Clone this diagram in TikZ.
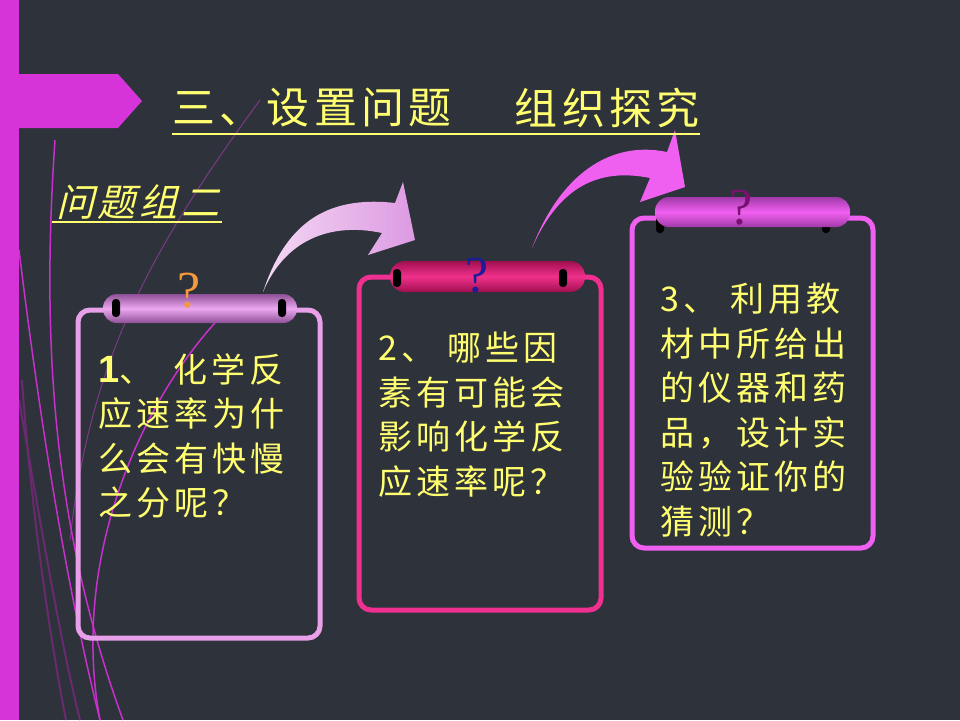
\documentclass[tikz,border=0pt]{standalone}
\usepackage{fontspec}
\newfontfamily\cjk[LetterSpace=12]{Noto Sans CJK SC}
\newfontfamily\cjkt[LetterSpace=10]{Noto Sans CJK SC}
\newfontfamily\cjki[FakeSlant=0.25,LetterSpace=10]{Noto Sans CJK SC}
\newfontfamily\numf{Liberation Sans}
\newfontfamily\qf{Liberation Serif}
\definecolor{bg}{HTML}{2E323A}
\definecolor{bar}{HTML}{D633D9}
\definecolor{ytext}{HTML}{FFFF70}
\definecolor{boxA}{HTML}{E8A0E8}
\definecolor{boxB}{HTML}{F03090}
\definecolor{boxC}{HTML}{F060F0}
\definecolor{capAe}{HTML}{8E5098}
\definecolor{capAm}{HTML}{ECA8F0}
\definecolor{capBe}{HTML}{A0104F}
\definecolor{capBm}{HTML}{F0308C}
\definecolor{capCe}{HTML}{A03AA8}
\definecolor{capCm}{HTML}{F260F2}
\definecolor{qA}{HTML}{F39A3A}
\definecolor{qB}{HTML}{1C1C96}
\definecolor{qC}{HTML}{7A1070}
\definecolor{arrAl}{HTML}{F4D8F4}
\definecolor{arrAr}{HTML}{DD9AE2}
\definecolor{arrB}{HTML}{F060F0}
\definecolor{decoM}{HTML}{C830CC}
\definecolor{decoD}{HTML}{6A2A70}
\definecolor{decoF}{HTML}{7A3A88}
\tikzset{
  framebox/.style={line width=5pt, rounded corners=12pt},
  hole/.style={fill=black, rounded corners=3.5pt, minimum width=8pt, minimum height=18pt, inner sep=0pt},
  qmark/.style={font=\qf\fontsize{52}{52}\selectfont, inner sep=0pt},
  boxtext/.style={anchor=north west, align=left, inner sep=0pt, text=ytext, font=\cjk\fontsize{34}{44.5}\selectfont},
  titletext/.style={inner sep=0pt, text=ytext, font=\cjkt\fontsize{43}{43}\selectfont},
  subtext/.style={inner sep=0pt, text=ytext, font=\cjki\fontsize{38}{38}\selectfont},
  uline/.style={ytext, line width=2.2pt},
}
\begin{document}
\begin{tikzpicture}[x=1pt,y=-1pt]
\useasboundingbox (0,0) rectangle (960,720);
\fill[bg] (0,0) rectangle (960,720);
% decorative lines
\draw[decoD, line width=2pt] (19,400) .. controls (40,520) and (60,640) .. (80,720);
\draw[decoD, line width=2pt] (22,380) .. controls (30,500) and (50,640) .. (66,720);
\draw[decoF, line width=1pt] (260,100) .. controls (150,250) and (90,360) .. (70,540);
\draw[decoM, line width=1.5pt] (55,140) .. controls (42,330) and (50,520) .. (123,720);
\draw[decoM, line width=1.5pt] (19,250) .. controls (35,380) and (60,560) .. (100,720);
\draw[decoM, line width=1.5pt] (225,312) .. controls (140,400) and (70,560) .. (100,720);
% left bar
\fill[bar] (0,0) rectangle (19,720);
\fill[bar] (0,74) -- (118,74) -- (142,101) -- (118,128) -- (0,128) -- cycle;
% boxes
\draw[framebox, boxA] (78,310) rectangle (320,638);
\draw[framebox, boxB] (359,277) rectangle (601,610);
\draw[framebox, boxC] (632,218) rectangle (873,548);
% capsules
\shade[top color=capAe, bottom color=capAe, middle color=capAm, rounded corners=14pt] (103,294) rectangle (297,323);
\node[hole] (h1a) at (116,308) {};
\node[hole] (h1b) at (282,308) {};
\shade[top color=capBe, bottom color=capBe, middle color=capBm, rounded corners=15pt] (390,261) rectangle (585,292);
\node[hole] (h2a) at (397,278) {};
\node[hole] (h2b) at (563,278) {};
\node[hole] (h3a) at (660,224) {};
\node[hole] (h3b) at (826,224) {};
\shade[top color=capCe, bottom color=capCe, middle color=capCm, rounded corners=14pt] (655,197) rectangle (850,227);
% question marks
\node[qmark, text=qA] (qa) at (189,291) {?};
\node[qmark, text=qB] (qb) at (477,276) {?};
\node[qmark, text=qC] (qc) at (741,208) {?};
% curved arrows
\shade[left color=arrAl, right color=arrAr]
  (263,292) .. controls (285,225) and (325,195) .. (395,203) -- (403,182) -- (415,240) -- (368,255) -- (382,233)
  .. controls (330,222) and (285,240) .. (263,292) -- cycle;
\fill[arrB]
  (532,248) .. controls (560,175) and (610,140) .. (667,152) -- (675,130) -- (685,187) -- (640,202) -- (650,178)
  .. controls (600,168) and (560,185) .. (532,248) -- cycle;
% titles
\node[titletext, anchor=west] (t1) at (172,108) {三、设置问题};
\node[titletext, anchor=east] (t2) at (700,108) {组织探究};
\draw[uline] (172,134) -- (700,134);
\node[subtext, anchor=west] (sub) at (56,202) {问题组二};
\draw[uline] (52,222) -- (222,222);
% texts
\node[boxtext] (x1) at (98,353) {{\numf\bfseries\fontsize{38}{38}\selectfont 1}、\hspace*{20pt}化学反\\应速率为什\\么会有快慢\\之分呢？};
\node[boxtext] (x2) at (378,332) {2、\hspace*{12pt}哪些因\\素有可能会\\影响化学反\\应速率呢？};
\node[boxtext] (x3) at (660,283) {3、\hspace*{13pt}利用教\\材中所给出\\的仪器和药\\品，设计实\\验验证你的\\猜测？};
\end{tikzpicture}
\end{document}
